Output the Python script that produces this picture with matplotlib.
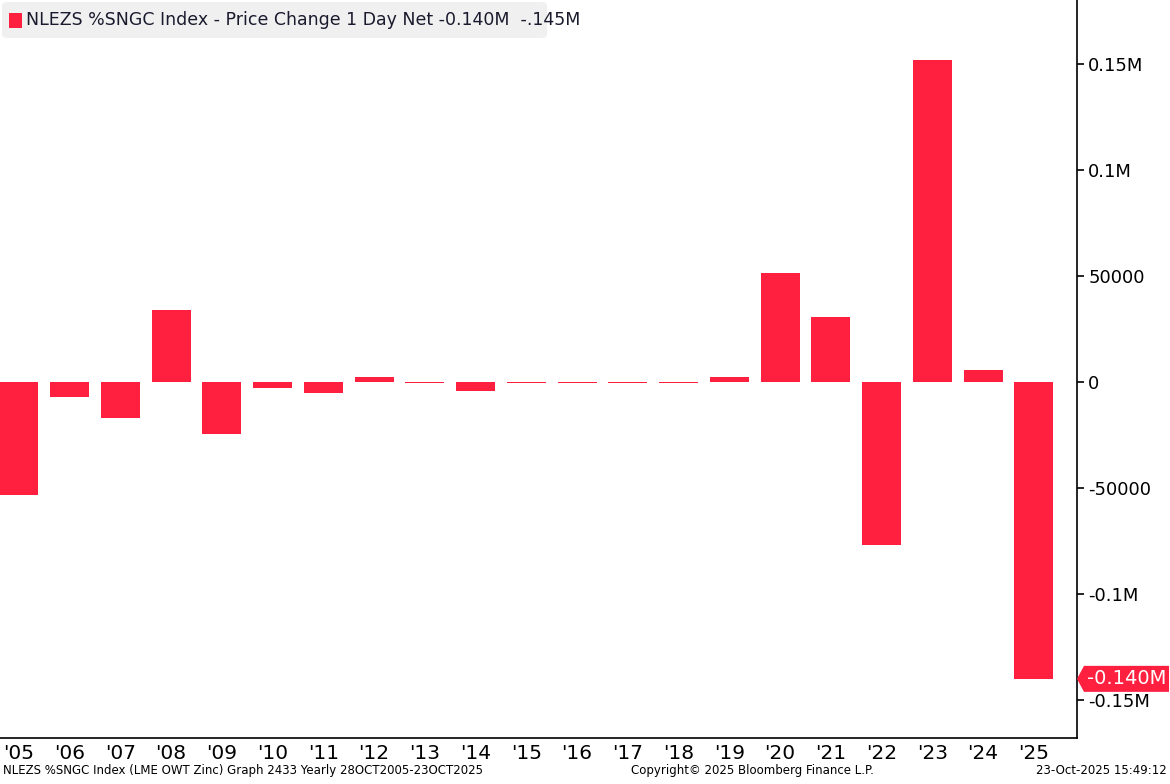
import matplotlib.pyplot as plt
from matplotlib.patches import FancyBboxPatch, Polygon

years = ["'05", "'06", "'07", "'08", "'09", "'10", "'11", "'12", "'13", "'14", "'15",
         "'16", "'17", "'18", "'19", "'20", "'21", "'22", "'23", "'24", "'25"]
values = [-53300, -7100, -17000, 34000, -24500, -2800, -5200, 2200, -400, -4200, -400,
          -400, -400, -400, 2200, 51400, 30700, -76900, 151900, 5700, -140000]
ytick_vals = [150000, 100000, 50000, 0, -50000, -100000, -150000]
ytick_labels = ['0.15M', '0.1M', '50000', '0', '-50000', '-0.1M', '-0.15M']

red = '#ff2040'
W, H = 1170, 784

plt.rcParams['font.family'] = 'DejaVu Sans'

fig = plt.figure(figsize=(11.7, 7.84), dpi=100)
ax = fig.add_axes([0, 1 - 738 / H, 1077 / W, 738 / H])

x = list(range(len(years)))
ax.bar(x, values, width=0.77, color=red, zorder=2)

ax.set_xlim(-0.37, 20.85)
ax.set_ylim(-167900, 180200)

ax.set_xticks(x)
ax.set_xticklabels(years, fontsize=14.5)
ax.tick_params(axis='x', length=0, pad=4)

ax.yaxis.tick_right()
ax.set_yticks(ytick_vals)
ax.set_yticklabels(ytick_labels, fontsize=13)
ax.tick_params(axis='y', direction='out', length=5, width=1.2, pad=3)

for s in ['top', 'left']:
    ax.spines[s].set_visible(False)
ax.spines['right'].set_linewidth(1.2)
ax.spines['bottom'].set_linewidth(1.2)

# legend box
box = FancyBboxPatch((2 / W, 1 - 38 / H), 545 / W, 36 / H,
                     boxstyle='round,pad=0,rounding_size=0.005',
                     transform=fig.transFigure, facecolor='#f0f0f0',
                     edgecolor='none', zorder=5)
fig.patches.append(box)
fig.patches.append(plt.Rectangle((9 / W, 1 - 28 / H), 13 / W, 15 / H,
                                 transform=fig.transFigure, facecolor=red,
                                 edgecolor='none', zorder=6))
fig.text(26 / W, 1 - 20 / H,
         'NLEZS %SNGC Index - Price Change 1 Day Net -0.140M  -.145M',
         fontsize=12.5, color='#1a1a2e', va='center', ha='left', zorder=7)

# last value tag, drawn from the last bar's value
last = values[-1]
_, ty = fig.transFigure.inverted().transform(ax.transData.transform((0, last)))
hh = 13 / H
tag = Polygon([(1077 / W, ty), (1084 / W, ty + hh), (1169 / W, ty + hh),
               (1169 / W, ty - hh), (1084 / W, ty - hh)],
              closed=True, transform=fig.transFigure, facecolor=red,
              edgecolor='none', zorder=6)
fig.patches.append(tag)
fig.text(1127 / W, ty, '-0.140M', color='white', fontsize=14,
         ha='center', va='center', zorder=7)

# footer
fig.text(3 / W, 7 / H, 'NLEZS %SNGC Index (LME OWT Zinc) Graph 2433 Yearly 28OCT2005-23OCT2025',
         fontsize=8.5, ha='left', va='bottom')
fig.text(752 / W, 7 / H, 'Copyright\u00a9 2025 Bloomberg Finance L.P.',
         fontsize=8.5, ha='center', va='bottom')
fig.text(1167 / W, 7 / H, '23-Oct-2025 15:49:12',
         fontsize=8.5, ha='right', va='bottom')

fig.savefig('out.png', dpi=100)
